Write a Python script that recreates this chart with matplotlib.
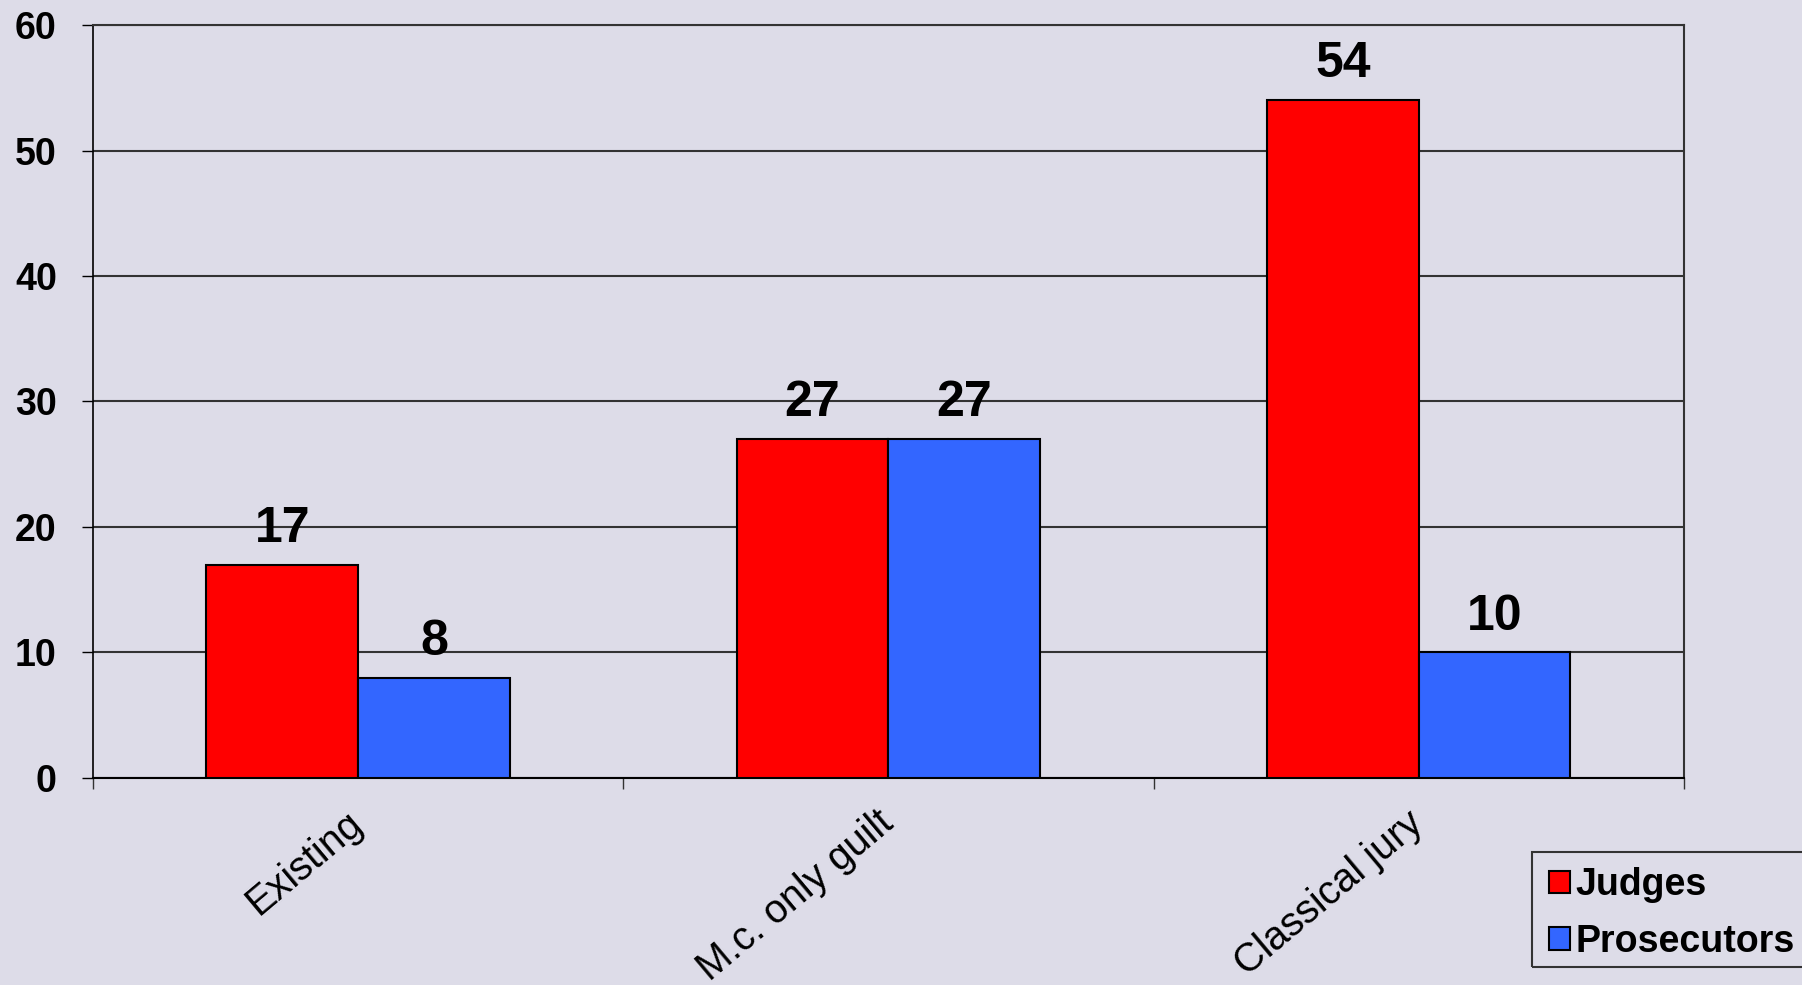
import numpy as np
import matplotlib
matplotlib.use('Agg')
import matplotlib.pyplot as plt
from matplotlib.patches import Rectangle

categories = ['Existing', 'M.c. only guilt', 'Classical jury']
judges = [17, 27, 54]
prosecutors = [8, 27, 10]
series_names = ['Judges', 'Prosecutors']
yticks = [0, 10, 20, 30, 40, 50, 60]

plt.rcParams['font.family'] = ['Liberation Sans', 'DejaVu Sans']

bg = '#dddce8'
W, H = 1802, 985
fig = plt.figure(figsize=(W / 100, H / 100), dpi=100, facecolor=bg)
ax = fig.add_axes([0.0516, 0.2102, 0.8828, 0.7644])
ax.set_facecolor(bg)

x = np.arange(len(categories))
w = 0.286
b1 = ax.bar(x - w / 2, judges, w, color='#ff0000', edgecolor='black', linewidth=1.5,
            label=series_names[0], zorder=3)
b2 = ax.bar(x + w / 2, prosecutors, w, color='#3366ff', edgecolor='black', linewidth=1.5,
            label=series_names[1], zorder=3)

for bars, vals in ((b1, judges), (b2, prosecutors)):
    for rect, v in zip(bars, vals):
        ax.annotate(str(v), (rect.get_x() + rect.get_width() / 2, v),
                    xytext=(0, 16.5), textcoords='offset points',
                    ha='center', va='baseline', fontsize=36, fontweight='bold')

ax.set_xlim(-0.5, 2.5)
ax.set_ylim(0, 60)
ax.set_yticks(yticks)
ax.set_yticklabels([str(t) for t in yticks], fontsize=27, fontweight='bold')
ax.tick_params(axis='y', direction='out', length=8, width=1, pad=18, color='black')
ax.yaxis.grid(True, color='#333333', linewidth=1.5, zorder=1)

ax.set_xticks(x)
ax.set_xticklabels(categories, fontsize=28.5, rotation=40, ha='right', va='center',
                   rotation_mode='anchor')
ax.tick_params(axis='x', which='major', length=0, pad=29)
ax.set_xticks([-0.5, 0.5, 1.5, 2.5], minor=True)
ax.tick_params(axis='x', which='minor', direction='out', length=8, width=1, color='#333333')

for s in ['top', 'right']:
    ax.spines[s].set_color('#333333')
    ax.spines[s].set_linewidth(1.5)
ax.spines['left'].set_color('black')
ax.spines['left'].set_linewidth(1.2)
ax.spines['bottom'].set_color('black')
ax.spines['bottom'].set_linewidth(1.5)

# legend box runs off the right edge, as in the original
fig.patches.append(Rectangle((1532 / W, 1 - 967 / H), 0.2, 115 / H,
                             transform=fig.transFigure, facecolor='none',
                             edgecolor='#333333', linewidth=1.5))
leg = fig.legend(handles=[b1, b2], labels=series_names, loc='upper left',
                 bbox_to_anchor=(1538 / W, 1 - 856 / H), frameon=False,
                 prop={'size': 27, 'weight': 'bold'}, handlelength=0.55, handleheight=0.55,
                 handletextpad=0.15, labelspacing=0.55, borderpad=0.3, borderaxespad=0)

fig.savefig('out.png', dpi=100, facecolor=bg)
